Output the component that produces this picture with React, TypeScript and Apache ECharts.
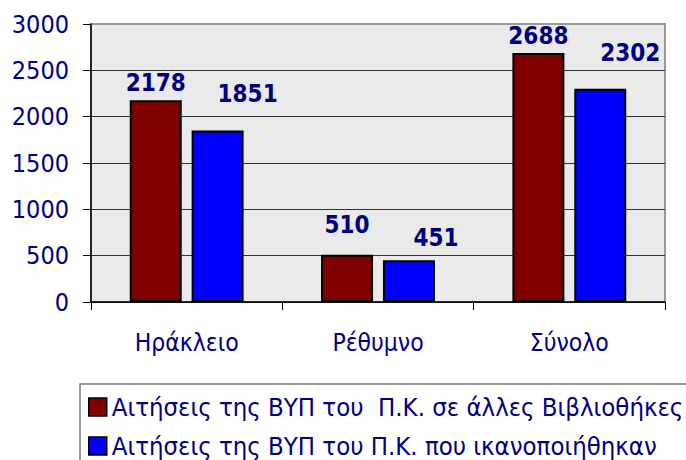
import React, { useEffect, useRef } from "react";
import * as echarts from "echarts";

const categories = ["Ηράκλειο", "Ρέθυμνο", "Σύνολο"];
const seriesNames = [
  "Αιτήσεις της ΒΥΠ του  Π.Κ. σε άλλες Βιβλιοθήκες",
  "Αιτήσεις της ΒΥΠ του Π.Κ. που ικανοποιήθηκαν",
];
const requests = [2178, 510, 2688];
const satisfied = [1851, 451, 2302];
const yTicks = { min: 0, max: 3000, interval: 500 };

const FONT = "DejaVu Sans Condensed";
const NAVY = "#000080";

export default function App() {
  const ref = useRef<HTMLDivElement>(null);
  useEffect(() => {
    document.body.style.margin = "0";
    const chart = echarts.init(ref.current!, null, { renderer: "svg" });
    const legendBase = {
      orient: "horizontal",
      left: 88,
      padding: 0,
      itemWidth: 18,
      itemHeight: 18,
      icon: "rect",
      itemStyle: { borderColor: "#000", borderWidth: 1.5 },
      textStyle: { color: NAVY, fontSize: 25.5, lineHeight: 26, fontFamily: FONT },
    };
    // Excel-like label placement: the small middle group's labels are staggered
    const redData = requests.map((v, i) =>
      i === 1 ? { value: v, label: { offset: [0, -13] } } : v
    );
    const blueData = satisfied.map((v, i) =>
      i === 1 ? { value: v, label: { offset: [27, -5] } } : v
    );
    chart.setOption({
      animation: false,
      textStyle: { fontFamily: FONT },
      grid: {
        left: 91,
        right: 21,
        top: 24,
        bottom: 158,
        show: true,
        backgroundColor: "#EAEAEA",
        borderColor: "#999999",
        borderWidth: 2,
      },
      xAxis: {
        type: "category",
        data: categories,
        axisLine: { lineStyle: { color: "#000", width: 1.5 } },
        axisTick: { show: true, length: 8, lineStyle: { color: "#000" } },
        axisLabel: { color: NAVY, fontSize: 24.5, fontFamily: FONT, margin: 28 },
      },
      yAxis: {
        type: "value",
        min: yTicks.min,
        max: yTicks.max,
        interval: yTicks.interval,
        axisLine: { show: true, lineStyle: { color: "#000", width: 1.5 } },
        axisTick: { show: true, length: 8, lineStyle: { color: "#000" } },
        axisLabel: {
          color: NAVY,
          fontSize: 25,
          fontFamily: FONT,
          margin: 22,
          formatter: (v: number) => String(v),
        },
        splitLine: {
          lineStyle: {
            color: ["#333", "#333", "#333", "#333", "#333", "#333", "#999"],
            width: 1,
          },
        },
      },
      legend: [
        { ...legendBase, top: 394, data: [seriesNames[0]] },
        { ...legendBase, top: 433, data: [seriesNames[1]] },
      ],
      graphic: [
        {
          type: "rect",
          shape: { x: 80, y: 384, width: 640, height: 90 },
          style: { fill: "none", stroke: "#777", lineWidth: 1.5 },
        },
      ],
      series: [
        {
          name: seriesNames[0],
          type: "bar",
          data: redData,
          barWidth: 52,
          barGap: "19%",
          itemStyle: { color: "#800000", borderColor: "#000", borderWidth: 2 },
          label: {
            show: true,
            position: "top",
            distance: 5,
            color: NAVY,
            fontSize: 24,
            fontWeight: "bold",
            fontFamily: FONT,
          },
        },
        {
          name: seriesNames[1],
          type: "bar",
          data: blueData,
          barWidth: 52,
          itemStyle: { color: "#0000FF", borderColor: "#000", borderWidth: 2 },
          label: {
            show: true,
            position: "top",
            distance: 5,
            offset: [30, -19],
            color: NAVY,
            fontSize: 24,
            fontWeight: "bold",
            fontFamily: FONT,
          },
        },
      ],
    });
    return () => chart.dispose();
  }, []);
  return <div ref={ref} style={{ width: 686, height: 460 }} />;
}
